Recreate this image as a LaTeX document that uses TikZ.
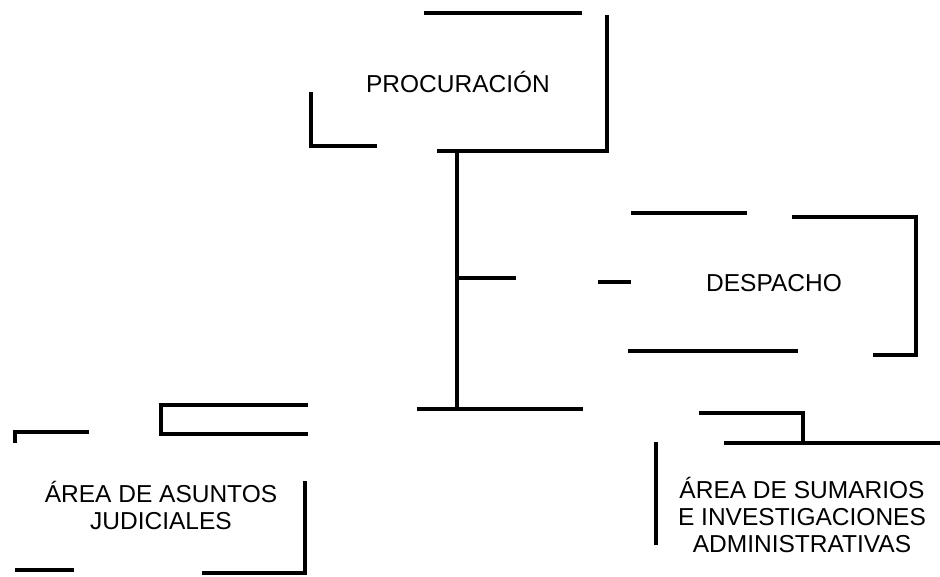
\documentclass[tikz,border=0pt]{standalone}
\usepackage{fontspec}
\setmainfont{Liberation Sans}
\begin{document}
\begin{tikzpicture}[x=1pt,y=-1pt,
  seg/.style={line width=3.5pt, line join=miter},
  lbl/.style={font=\fontsize{24.5}{27}\selectfont, align=center, inner sep=0pt}]
\useasboundingbox (0,0) rectangle (940,577);
% labels
\node[lbl] (proc) at (458,82) {PROCURACIÓN};
\node[lbl] (desp) at (774,283) {DESPACHO};
\node[lbl] (asun) at (161,505) {ÁREA DE ASUNTOS\\JUDICIALES};
\node[lbl] (sum) at (802,515) {ÁREA DE SUMARIOS\\E INVESTIGACIONES\\ADMINISTRATIVAS};
% named points on the tree
\coordinate (stemtop) at (457,152);
\coordinate (stembot) at (457,409);
\coordinate (branch) at (457,278);
% PROCURACIÓN frame fragments
\draw[seg] (424,13) -- (582,13);
\draw[seg] (607,15) -- (607,151) -- (437,151);
\draw[seg] (311,92) -- (311,146) -- (377,146);
% stem and branches
\draw[seg] (stemtop) -- (stembot);
\draw[seg] (branch) -- (516,278);
\draw[seg] (598,282) -- (631,282);
\draw[seg] (417,409) -- (583,409);
% DESPACHO frame fragments
\draw[seg] (631,213) -- (747,213);
\draw[seg] (792,217) -- (916,217) -- (916,355) -- (873,355);
\draw[seg] (628,351) -- (798,351);
% right lower
\draw[seg] (699,413) -- (803,413) -- (803,443);
\draw[seg] (724,443) -- (940,443);
\draw[seg] (656,442) -- (656,545);
% left lower
\draw[seg] (308,405) -- (161,405) -- (161,434) -- (308,434);
\draw[seg] (15,443) -- (15,432) -- (89,432);
\draw[seg] (15,570) -- (74,570);
\draw[seg] (305,481) -- (305,573) -- (202,573);
\end{tikzpicture}
\end{document}
